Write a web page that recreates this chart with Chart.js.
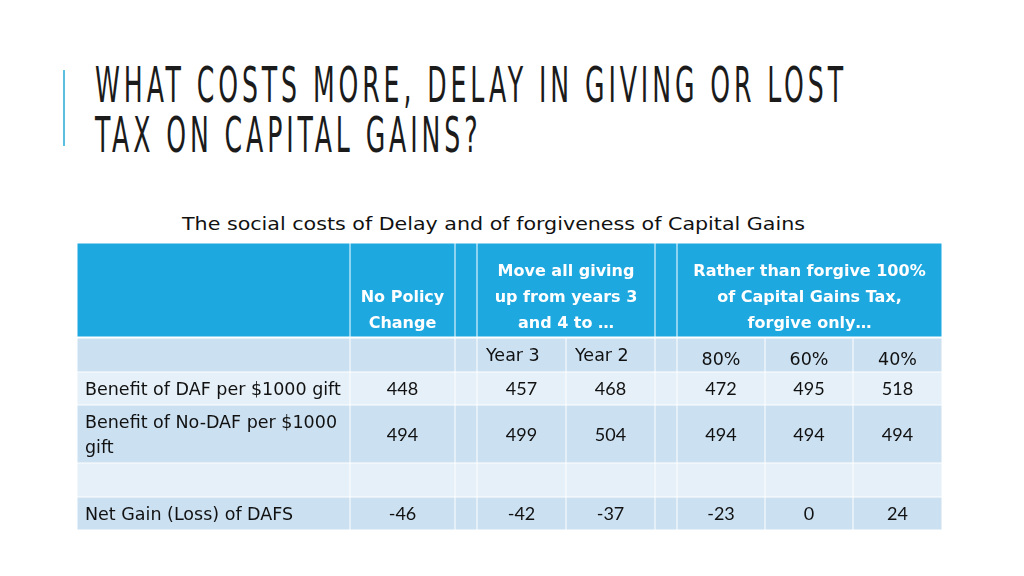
<!DOCTYPE html>
<html>
<head>
<meta charset="utf-8">
<script src="https://cdn.jsdelivr.net/npm/chart.js@4.4.1/dist/chart.umd.min.js"></script>
<style>
  html, body { margin: 0; padding: 0; background: #ffffff; }
  #page { position: relative; width: 1024px; height: 576px; overflow: hidden; }
  #accent { position: absolute; left: 63px; top: 70px; width: 2px; height: 76px; background: #5bbfe0; }
  #title {
    position: absolute; left: 95px; top: 60px;
    font-family: "DejaVu Sans Condensed", "DejaVu Sans", sans-serif;
    font-size: 50px; line-height: 50px; color: #1b1b1b;
    letter-spacing: 7px; white-space: nowrap;
    transform-origin: 0 0;
  }
  #subtitle {
    position: absolute; left: 182px; top: 213px;
    font-family: "DejaVu Sans", sans-serif; font-size: 18px; color: #111;
    white-space: nowrap; transform-origin: 0 0;
  }
  #chart { position: absolute; left: 0; top: 0; }
</style>
</head>
<body>
<div id="page">
  <div id="accent"></div>
  <div id="title">WHAT COSTS MORE, DELAY IN GIVING OR LOST<br>TAX ON CAPITAL GAINS?</div>
  <div id="subtitle">The social costs of Delay and of forgiveness of Capital Gains</div>
  <canvas id="chart" width="1024" height="576"></canvas>
</div>
<script>
// Dados da tabela
const headNoPolicy = ["No Policy", "Change"];
const headDelay = ["Move all giving", "up from years 3", "and 4 to \u2026"];
const headForgive = ["Rather than forgive 100%", "of Capital Gains Tax,", "forgive only\u2026"];
const subLabels = ["Year 3", "Year 2", "80%", "60%", "40%"];
const rowLabels = [["Benefit of DAF per $1000 gift"], ["Benefit of No-DAF per $1000", "gift"], [], ["Net Gain (Loss) of DAFS"]];
const noPolicy = [448, 494, null, -46];
const delayYear3 = [457, 499, null, -42];
const delayYear2 = [468, 504, null, -37];
const forgive80 = [472, 494, null, -23];
const forgive60 = [495, 494, null, 0];
const forgive40 = [518, 494, null, 24];

// Layout (largura das colunas / altura das linhas)
const colWidths = [273, 105, 22, 89, 89, 22, 88, 88, 89];
const rowHeights = [95, 34, 33, 58, 34, 33];
const valueCols = [[1, noPolicy], [3, delayYear3], [4, delayYear2], [6, forgive80], [7, forgive60], [8, forgive40]];
const subCols = [3, 4, 6, 7, 8];

const colEdges = [0];
colWidths.forEach(w => colEdges.push(colEdges[colEdges.length - 1] + w));
const rowEdges = [0];
rowHeights.forEach(h => rowEdges.push(rowEdges[rowEdges.length - 1] + h));

const HEAD = "#1ea8e0", DARK = "#cbe0f1", LIGHT = "#e6f0f8";
const labelFont = '17.5px "DejaVu Sans", sans-serif';
const headFont = 'bold 16px "DejaVu Sans", sans-serif';
const numFont = '18px Lato, sans-serif';

const tablePlugin = {
  id: "tableCells",
  afterDraw(chart) {
    const ctx = chart.ctx;
    const x = chart.scales.x, y = chart.scales.y;
    const rect = (c0, c1, r) => ({
      l: x.getPixelForValue(colEdges[c0]),
      r: x.getPixelForValue(colEdges[c1]),
      t: y.getPixelForValue(rowEdges[r]),
      b: y.getPixelForValue(rowEdges[r + 1])
    });
    const fill = (c, color, gapB) => {
      ctx.fillStyle = color;
      ctx.fillRect(c.l + 0.5, c.t + 0.5, c.r - c.l - 1, c.b - c.t - 1 - (gapB || 0));
    };
    ctx.save();

    // cabeçalho
    const headCells = [[0, 1, []], [1, 2, headNoPolicy], [2, 3, []], [3, 5, headDelay], [5, 6, []], [6, 9, headForgive]];
    headCells.forEach(([c0, c1, lines]) => {
      const c = rect(c0, c1, 0);
      fill(c, HEAD, 1);
      ctx.fillStyle = "#ffffff";
      ctx.font = headFont;
      ctx.textAlign = "center";
      ctx.textBaseline = "middle";
      lines.forEach((txt, i) => {
        ctx.fillText(txt, (c.l + c.r) / 2, c.b - 14 - (lines.length - 1 - i) * 26);
      });
    });

    // linhas do corpo
    for (let r = 1; r < rowHeights.length; r++) {
      for (let c = 0; c < colWidths.length; c++) {
        fill(rect(c, c + 1, r), r % 2 === 1 ? DARK : LIGHT);
      }
    }

    // sub-cabeçalho
    ctx.fillStyle = "#111";
    ctx.font = labelFont;
    ctx.textBaseline = "middle";
    subCols.forEach((col, i) => {
      const c = rect(col, col + 1, 1);
      if (i < 2) {
        ctx.textAlign = "left";
        ctx.fillText(subLabels[i], c.l + 9, c.t + 18);
      } else {
        ctx.textAlign = "center";
        ctx.fillText(subLabels[i], (c.l + c.r) / 2, c.t + 22);
      }
    });

    // rótulos e valores
    rowLabels.forEach((lines, i) => {
      const c = rect(0, 1, i + 2);
      const mid = (c.t + c.b) / 2;
      ctx.font = labelFont;
      ctx.textAlign = "left";
      lines.forEach((txt, k) => {
        ctx.fillText(txt, c.l + 8, mid + 2 + (k - (lines.length - 1) / 2) * 25);
      });
      ctx.font = numFont;
      ctx.textAlign = "center";
      valueCols.forEach(([col, arr]) => {
        if (arr[i] === null) return;
        const cc = rect(col, col + 1, i + 2);
        ctx.fillText(String(arr[i]), (cc.l + cc.r) / 2, mid + 1);
      });
    });
    ctx.restore();
  }
};

new Chart(document.getElementById("chart"), {
  type: "scatter",
  data: { datasets: [{ data: [] }] },
  options: {
    responsive: false,
    animation: false,
    devicePixelRatio: 1,
    layout: { padding: { left: 77, top: 243, right: 82, bottom: 46 } },
    plugins: { legend: { display: false }, tooltip: { enabled: false } },
    scales: {
      x: { type: "linear", min: 0, max: colEdges[colEdges.length - 1], display: false },
      y: { type: "linear", min: 0, max: rowEdges[rowEdges.length - 1], reverse: true, display: false }
    }
  },
  plugins: [tablePlugin]
});

// ajusta a largura do título e do subtítulo
const title = document.getElementById("title");
title.style.transform = "scaleX(" + (752 / title.getBoundingClientRect().width) + ")";
const sub = document.getElementById("subtitle");
sub.style.transform = "scaleX(" + (623 / sub.getBoundingClientRect().width) + ")";
</script>
</body>
</html>
